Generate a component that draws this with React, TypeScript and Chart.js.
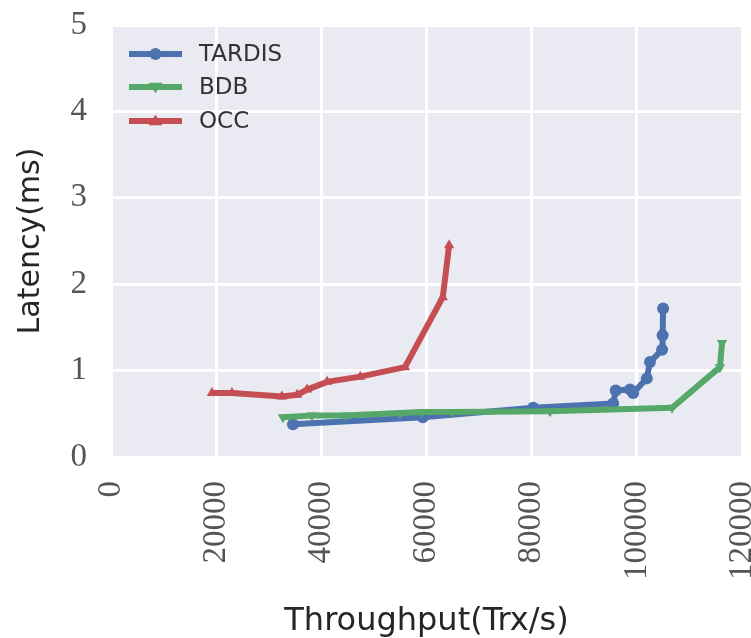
import React, { useEffect, useRef } from "react";
import { Chart, registerables } from "chart.js";
Chart.register(...registerables);

// Series names
const seriesNames = ["TARDIS", "BDB", "OCC"];

// TARDIS (blue, circles)
const tardisX = [34600, 59300, 80300, 95500, 96000, 98700, 99300, 101900, 102500, 104800, 104900, 105000];
const tardisY = [0.38, 0.46, 0.57, 0.62, 0.77, 0.78, 0.74, 0.91, 1.1, 1.24, 1.41, 1.72];

// BDB (green, triangle down)
const bdbX = [32700, 38200, 44500, 55000, 59100, 64800, 83500, 106700, 115800, 116200];
const bdbY = [0.46, 0.48, 0.48, 0.51, 0.52, 0.52, 0.53, 0.57, 1.04, 1.32];

// OCC (red, triangle up)
const occX = [19200, 23000, 32500, 35400, 37300, 41100, 47400, 55900, 63100, 64300];
const occY = [0.74, 0.74, 0.7, 0.72, 0.78, 0.87, 0.93, 1.04, 1.85, 2.45];

// Axis ticks
const xTicks = [0, 20000, 40000, 60000, 80000, 100000, 120000];
const yTicks = [0, 1, 2, 3, 4, 5];

const xTitle = "Throughput(Trx/s)";
const yTitle = "Latency(ms)";

const colors = ["#4C72B0", "#55A868", "#C44E52"];
const markers = ["circle", "triangle", "triangle"];
const rotations = [0, 180, 0];

const toPoints = (xs: number[], ys: number[]) => xs.map((x, i) => ({ x, y: ys[i] }));

const bgPlugin = {
  id: "bgPlugin",
  beforeDraw(chart: any) {
    const { ctx, chartArea } = chart;
    ctx.save();
    ctx.fillStyle = "#EAEAF2";
    ctx.fillRect(chartArea.left, chartArea.top, chartArea.right - chartArea.left, chartArea.bottom - chartArea.top);
    ctx.restore();
  },
};

const legendPlugin = {
  id: "insideLegend",
  afterDraw(chart: any) {
    const { ctx, chartArea } = chart;
    const x0 = chartArea.left + 18;
    const x1 = chartArea.left + 71;
    const tx = chartArea.left + 88;
    const ys = [chartArea.top + 29, chartArea.top + 62, chartArea.top + 96];
    ctx.save();
    seriesNames.forEach((name, i) => {
      const y = ys[i];
      ctx.strokeStyle = colors[i];
      ctx.lineWidth = 6;
      ctx.beginPath();
      ctx.moveTo(x0, y);
      ctx.lineTo(x1, y);
      ctx.stroke();
      ctx.fillStyle = colors[i];
      const cx = (x0 + x1) / 2;
      const r = 7;
      ctx.beginPath();
      if (i === 0) {
        ctx.arc(cx, y, r - 1, 0, Math.PI * 2);
      } else if (i === 1) {
        ctx.moveTo(cx - r, y - r * 0.6);
        ctx.lineTo(cx + r, y - r * 0.6);
        ctx.lineTo(cx, y + r * 0.9);
      } else {
        ctx.moveTo(cx - r, y + r * 0.6);
        ctx.lineTo(cx + r, y + r * 0.6);
        ctx.lineTo(cx, y - r * 0.9);
      }
      ctx.closePath();
      ctx.fill();
      ctx.fillStyle = "#333333";
      ctx.font = '23px "DejaVu Sans"';
      ctx.textAlign = "left";
      ctx.textBaseline = "middle";
      ctx.fillText(name, tx, y + 1);
    });
    ctx.restore();
  },
};

const noPad = (scale: any) => {
  scale.paddingLeft = 0;
  scale.paddingRight = 0;
  scale.paddingTop = 0;
  scale.paddingBottom = 0;
};

export default function App() {
  const ref = useRef<HTMLCanvasElement | null>(null);
  useEffect(() => {
    if (!ref.current) return;
    const series = [toPoints(tardisX, tardisY), toPoints(bdbX, bdbY), toPoints(occX, occY)];
    const chart = new Chart(ref.current, {
      type: "line",
      data: {
        datasets: series.map((d, i) => ({
          label: seriesNames[i],
          data: d,
          borderColor: colors[i],
          backgroundColor: colors[i],
          borderWidth: 6,
          pointStyle: markers[i] as any,
          rotation: rotations[i],
          pointRadius: 6,
          pointBorderWidth: 0,
          fill: false,
          tension: 0,
          order: 3 - i,
        })),
      },
      options: {
        responsive: false,
        animation: false,
        layout: { padding: { top: 25, right: 9, bottom: 0, left: 0 } },
        plugins: { legend: { display: false }, tooltip: { enabled: false } },
        scales: {
          x: {
            type: "linear",
            min: 0,
            max: 120000,
            afterBuildTicks: (scale: any) => {
              scale.ticks = xTicks.map((v) => ({ value: v }));
            },
            afterFit: (scale: any) => {
              scale.height = 181;
              noPad(scale);
            },
            grid: { color: "#FFFFFF", lineWidth: 3, drawTicks: false },
            border: { display: false },
            ticks: {
              autoSkip: false,
              minRotation: 90,
              maxRotation: 90,
              padding: 24,
              color: "#555555",
              font: { family: '"Liberation Serif"', size: 33 },
              callback: (v: any) => String(v),
            },
            title: {
              display: true,
              text: xTitle,
              color: "#262626",
              font: { family: '"DejaVu Sans"', size: 32 },
              padding: { top: 0, bottom: -3 },
            },
          },
          y: {
            type: "linear",
            min: 0,
            max: 5,
            afterBuildTicks: (scale: any) => {
              scale.ticks = yTicks.map((v) => ({ value: v }));
            },
            afterFit: (scale: any) => {
              scale.width = 111;
              noPad(scale);
            },
            grid: { color: "#FFFFFF", lineWidth: 3, drawTicks: false },
            border: { display: false },
            ticks: {
              padding: 24,
              color: "#555555",
              font: { family: '"Liberation Serif"', size: 33 },
              callback: (v: any) => String(v),
            },
            title: {
              display: true,
              text: yTitle,
              color: "#262626",
              font: { family: '"DejaVu Sans"', size: 30 },
              padding: { top: 13, bottom: 0 },
            },
          },
        },
      },
      plugins: [bgPlugin, legendPlugin],
    });
    return () => chart.destroy();
  }, []);
  return (
    <div style={{ position: "absolute", left: 0, top: 0, width: 751, height: 638 }}>
      <canvas ref={ref} width={751} height={638} style={{ width: 751, height: 638, display: "block" }} />
    </div>
  );
}
